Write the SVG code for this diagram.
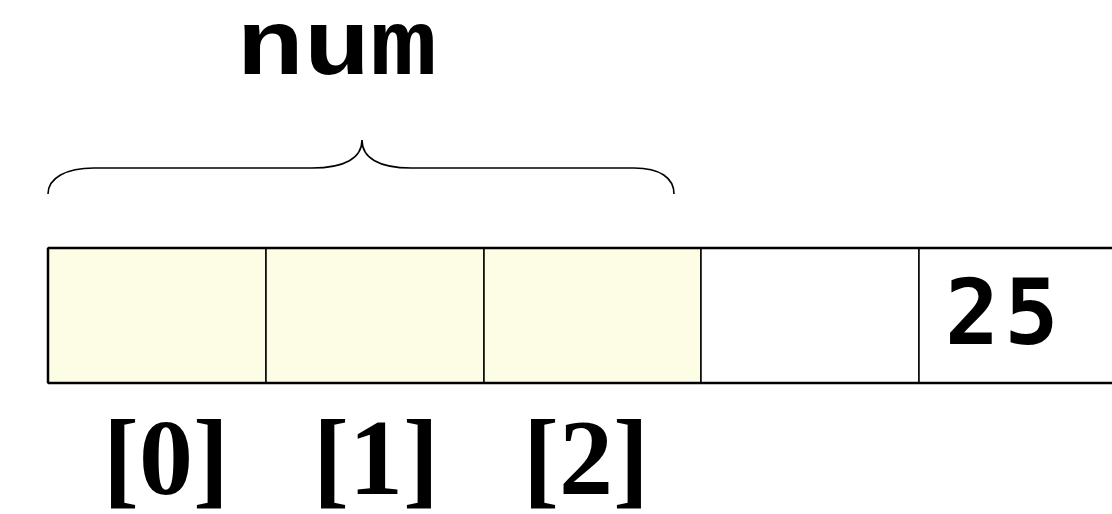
<svg xmlns="http://www.w3.org/2000/svg" width="1112" height="514" viewBox="0 0 1112 514">
<style>
.cell{stroke:#000;stroke-width:1.5}
.fill{fill:#FDFDE6}
.empty{fill:#fff}
.idx{font-family:"Liberation Serif","Times New Roman",serif;font-weight:bold;font-size:108px;text-anchor:middle}
.mono{font-family:"Liberation Mono","Courier New",monospace;font-weight:bold}
</style>
<rect width="1112" height="514" fill="#fff"/>
<g id="label-num">
<text x="237" y="74" class="mono" font-size="92" textLength="200" lengthAdjust="spacingAndGlyphs">num</text>
</g>
<g id="brace">
<path d="M48,194 C48,178 66,168 94,168 L312,168 C345,168 362,158 362,140 C362,158 379,168 411,168 L634,168 C660,168 674,178 674,194" fill="none" stroke="#000" stroke-width="1.6"/>
</g>
<g id="array">
<g id="cell0"><rect class="cell fill" x="48" y="248" width="218" height="135"/></g>
<g id="cell1"><rect class="cell fill" x="266" y="248" width="218" height="135"/></g>
<g id="cell2"><rect class="cell fill" x="484" y="248" width="217" height="135"/></g>
<g id="cell3"><rect class="cell empty" x="701" y="248" width="218" height="135"/></g>
<g id="cell4"><rect class="cell empty" x="919" y="248" width="220" height="135"/>
<text x="945" y="344" font-family="'DejaVu Sans Mono',monospace" font-weight="bold" font-size="90" letter-spacing="5">25</text></g>
<g id="outline" stroke="#000" stroke-width="2.5" fill="none">
<line x1="48" y1="248" x2="1112" y2="248"/>
<line x1="48" y1="383" x2="1112" y2="383"/>
<line x1="48" y1="248" x2="48" y2="383"/>
</g>
</g>
<g id="indices">
<text class="idx" x="166" y="494">[0]</text>
<text class="idx" x="376" y="494">[1]</text>
<text class="idx" x="586" y="494">[2]</text>
</g>
</svg>
